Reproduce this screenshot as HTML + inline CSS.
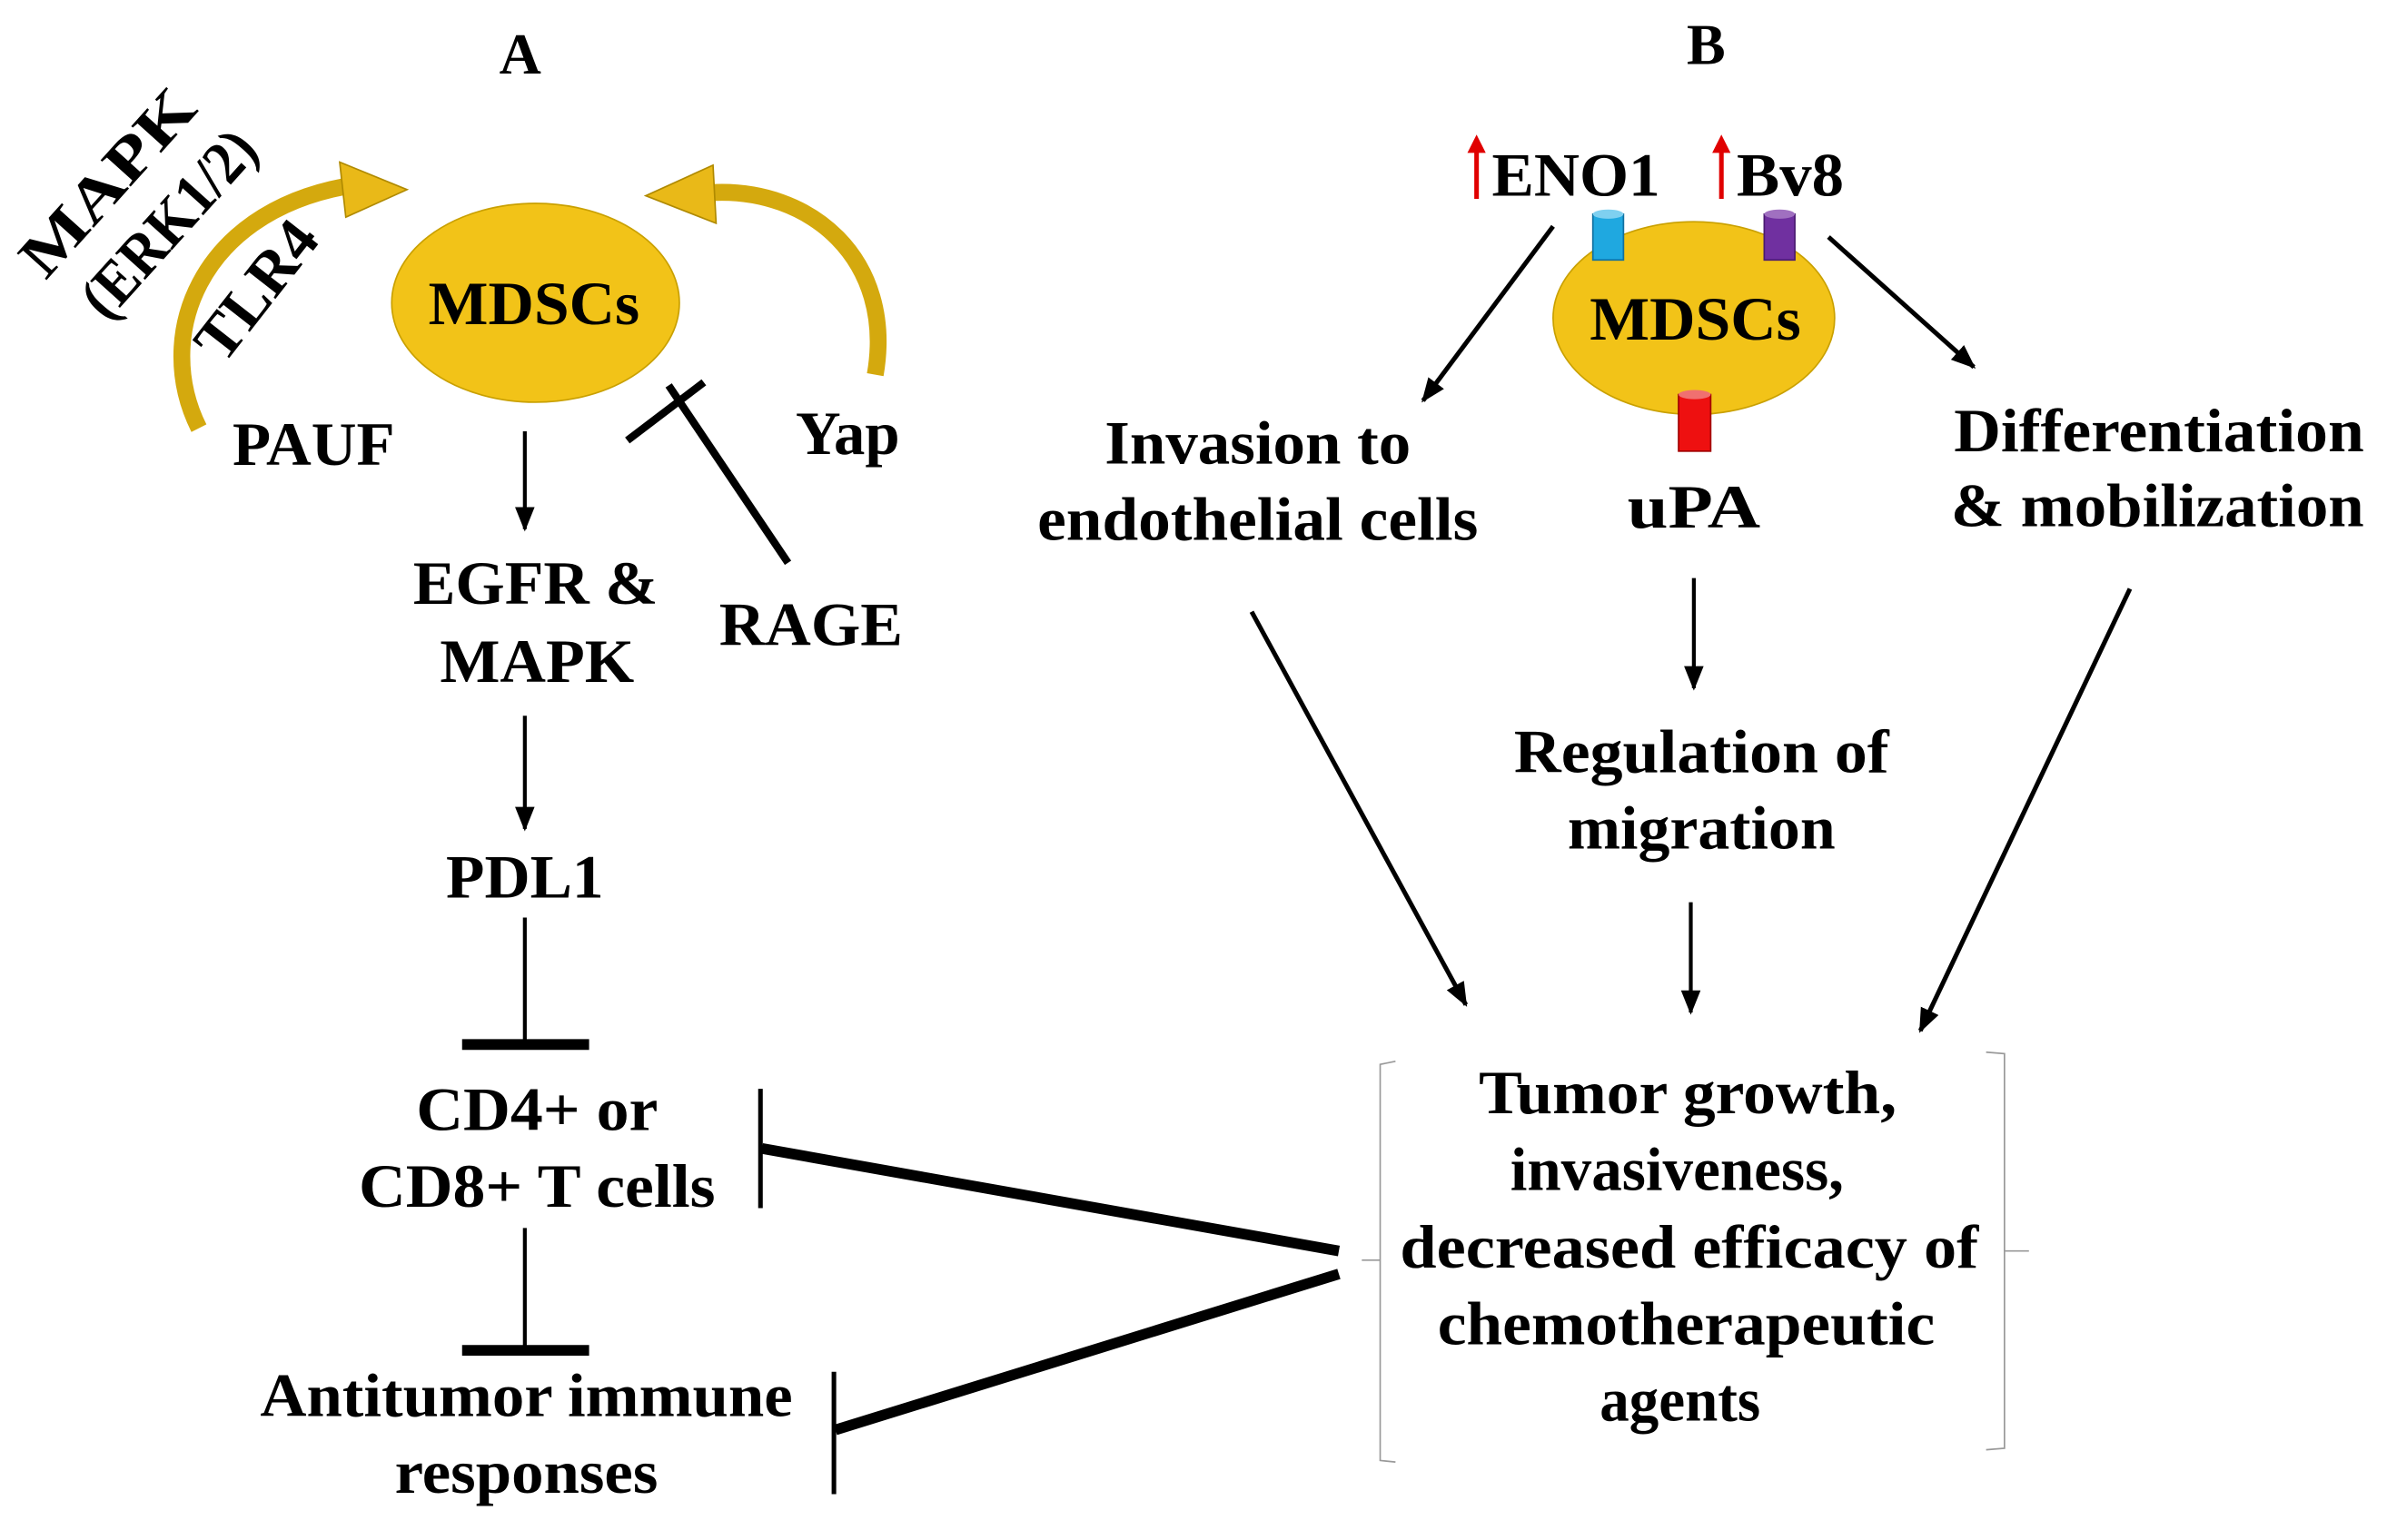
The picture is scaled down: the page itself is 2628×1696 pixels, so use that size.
<!DOCTYPE html>
<html><head><meta charset="utf-8"><style>
html,body{margin:0;padding:0;background:#fff;}
svg{display:block;}
text{font-family:"Liberation Serif",serif;font-weight:bold;fill:#000;}
</style></head><body>
<svg width="2628" height="1696" viewBox="0 0 1560 1007" preserveAspectRatio="none" xmlns="http://www.w3.org/2000/svg">
<defs>
<marker id="ah2" viewBox="0 0 10 10" refX="9" refY="5" markerWidth="16" markerHeight="16" orient="auto" markerUnits="userSpaceOnUse">
<path d="M0,1 L10,5 L0,9 Z" fill="#000"/></marker>
</defs>
<rect width="1560" height="1007" fill="#fff"/>

<text x="340" y="48" font-size="38" text-anchor="middle">A</text>
<text x="1115" y="42" font-size="38" text-anchor="middle">B</text>

<!-- gold arcs -->
<path d="M130,280 C100,220 130,140 225,122" fill="none" stroke="#D4A90E" stroke-width="11"/>
<polygon points="222,106 266,124 226,142" fill="#E9B918" stroke="#B08A00" stroke-width="1"/>
<path d="M572,245 C585,170 530,122 464,126" fill="none" stroke="#D4A90E" stroke-width="11"/>
<polygon points="466,108 422,128 468,146" fill="#E9B918" stroke="#B08A00" stroke-width="1"/>

<ellipse cx="350" cy="198" rx="94" ry="65" fill="#F2C318" stroke="#C9A000" stroke-width="1"/>
<text x="349" y="212" font-size="40" text-anchor="middle" textLength="138" lengthAdjust="spacingAndGlyphs">MDSCs</text>

<g transform="translate(80,128) rotate(-48)"><text x="0" y="0" font-size="40" text-anchor="middle" textLength="150" lengthAdjust="spacingAndGlyphs">MAPK</text></g>
<g transform="translate(120,155) rotate(-48)"><text x="0" y="0" font-size="40" text-anchor="middle" textLength="150" lengthAdjust="spacingAndGlyphs">(ERK1/2)</text></g>
<g transform="translate(178,198) rotate(-52)"><text x="0" y="0" font-size="40" text-anchor="middle" textLength="104" lengthAdjust="spacingAndGlyphs">TLR4</text></g>

<text x="205" y="304" font-size="40" text-anchor="middle" textLength="106" lengthAdjust="spacingAndGlyphs">PAUF</text>
<text x="554" y="297" font-size="40" text-anchor="middle" textLength="68" lengthAdjust="spacingAndGlyphs">Yap</text>

<line x1="515" y1="368" x2="437" y2="252" stroke="#000" stroke-width="5"/>
<line x1="410" y1="288" x2="460" y2="250" stroke="#000" stroke-width="5"/>
<text x="530" y="422" font-size="40" text-anchor="middle" textLength="120" lengthAdjust="spacingAndGlyphs">RAGE</text>

<line x1="343" y1="282" x2="343" y2="346" stroke="#000" stroke-width="2.5" marker-end="url(#ah2)"/>
<text x="350" y="395" font-size="40" text-anchor="middle" textLength="160" lengthAdjust="spacingAndGlyphs">EGFR &amp;</text>
<text x="351" y="446" font-size="40" text-anchor="middle" textLength="127" lengthAdjust="spacingAndGlyphs">MAPK</text>
<line x1="343" y1="468" x2="343" y2="542" stroke="#000" stroke-width="2.5" marker-end="url(#ah2)"/>
<text x="343" y="587" font-size="40" text-anchor="middle" textLength="103" lengthAdjust="spacingAndGlyphs">PDL1</text>

<line x1="343" y1="600" x2="343" y2="683" stroke="#000" stroke-width="2.5"/>
<line x1="302" y1="683" x2="385" y2="683" stroke="#000" stroke-width="7"/>
<text x="351" y="739" font-size="40" text-anchor="middle" textLength="158" lengthAdjust="spacingAndGlyphs">CD4+ or</text>
<text x="351" y="789" font-size="40" text-anchor="middle" textLength="233" lengthAdjust="spacingAndGlyphs">CD8+ T cells</text>
<line x1="343" y1="803" x2="343" y2="883" stroke="#000" stroke-width="2.5"/>
<line x1="302" y1="883" x2="385" y2="883" stroke="#000" stroke-width="7"/>
<text x="344" y="926" font-size="40" text-anchor="middle" textLength="348" lengthAdjust="spacingAndGlyphs">Antitumor immune</text>
<text x="344" y="976" font-size="40" text-anchor="middle" textLength="172" lengthAdjust="spacingAndGlyphs">responses</text>

<line x1="497" y1="712" x2="497" y2="790" stroke="#000" stroke-width="3"/>
<line x1="498" y1="751" x2="875" y2="818" stroke="#000" stroke-width="7"/>
<line x1="545" y1="897" x2="545" y2="977" stroke="#000" stroke-width="3"/>
<line x1="546" y1="935" x2="875" y2="833" stroke="#000" stroke-width="7"/>

<!-- Panel B -->
<line x1="965" y1="130" x2="965" y2="92" stroke="#E00000" stroke-width="3"/>
<polygon points="959,100 965,88 971,100" fill="#E00000"/>
<text x="975" y="128" font-size="40" textLength="110" lengthAdjust="spacingAndGlyphs">ENO1</text>
<line x1="1125" y1="130" x2="1125" y2="92" stroke="#E00000" stroke-width="3"/>
<polygon points="1119,100 1125,88 1131,100" fill="#E00000"/>
<text x="1135" y="128" font-size="40" textLength="70" lengthAdjust="spacingAndGlyphs">Bv8</text>

<ellipse cx="1107" cy="208" rx="92" ry="63" fill="#F2C318" stroke="#C9A000" stroke-width="1"/>
<text x="1108" y="222" font-size="40" text-anchor="middle" textLength="138" lengthAdjust="spacingAndGlyphs">MDSCs</text>
<rect x="1041" y="140" width="20" height="30" fill="#1FA8E0" stroke="#1070A0" stroke-width="1"/>
<ellipse cx="1051" cy="140" rx="10" ry="3" fill="#7FD0F0"/>
<rect x="1153" y="140" width="20" height="30" fill="#7030A0" stroke="#4A1A70" stroke-width="1"/>
<ellipse cx="1163" cy="140" rx="10" ry="3" fill="#A070C0"/>
<rect x="1097" y="258" width="21" height="37" fill="#EE1010" stroke="#A00000" stroke-width="1"/>
<ellipse cx="1107.5" cy="258" rx="10.5" ry="3" fill="#F07070"/>

<line x1="1015" y1="148" x2="930" y2="262" stroke="#000" stroke-width="3" marker-end="url(#ah2)"/>
<line x1="1195" y1="155" x2="1290" y2="240" stroke="#000" stroke-width="3" marker-end="url(#ah2)"/>

<text x="822" y="303" font-size="40" text-anchor="middle" textLength="200" lengthAdjust="spacingAndGlyphs">Invasion to</text>
<text x="822" y="353" font-size="40" text-anchor="middle" textLength="288" lengthAdjust="spacingAndGlyphs">endothelial cells</text>
<text x="1107" y="345" font-size="40" text-anchor="middle" textLength="87" lengthAdjust="spacingAndGlyphs">uPA</text>
<text x="1411" y="295" font-size="40" text-anchor="middle" textLength="268" lengthAdjust="spacingAndGlyphs">Differentiation</text>
<text x="1410" y="344" font-size="40" text-anchor="middle" textLength="270" lengthAdjust="spacingAndGlyphs">&amp; mobilization</text>

<line x1="1107" y1="378" x2="1107" y2="450" stroke="#000" stroke-width="2.5" marker-end="url(#ah2)"/>
<text x="1112" y="505" font-size="40" text-anchor="middle" textLength="245" lengthAdjust="spacingAndGlyphs">Regulation of</text>
<text x="1112" y="555" font-size="40" text-anchor="middle" textLength="175" lengthAdjust="spacingAndGlyphs">migration</text>
<line x1="1105" y1="590" x2="1105" y2="662" stroke="#000" stroke-width="2.5" marker-end="url(#ah2)"/>

<line x1="818" y1="400" x2="958" y2="657" stroke="#000" stroke-width="3" marker-end="url(#ah2)"/>
<line x1="1392" y1="385" x2="1255" y2="674" stroke="#000" stroke-width="3" marker-end="url(#ah2)"/>

<path d="M912,694 L902,696 L902,955 L912,956" fill="none" stroke="#999" stroke-width="1"/>
<path d="M902,824 L890,824" fill="none" stroke="#999" stroke-width="1"/>
<path d="M1298,688 L1310,689 L1310,947 L1298,948" fill="none" stroke="#999" stroke-width="1"/>
<path d="M1310,818 L1326,818" fill="none" stroke="#999" stroke-width="1"/>

<text x="1103" y="728" font-size="40" text-anchor="middle" textLength="273" lengthAdjust="spacingAndGlyphs">Tumor growth,</text>
<text x="1096" y="778" font-size="40" text-anchor="middle" textLength="218" lengthAdjust="spacingAndGlyphs">invasiveness,</text>
<text x="1104" y="829" font-size="40" text-anchor="middle" textLength="378" lengthAdjust="spacingAndGlyphs">decreased efficacy of</text>
<text x="1102" y="879" font-size="40" text-anchor="middle" textLength="325" lengthAdjust="spacingAndGlyphs">chemotherapeutic</text>
<text x="1098" y="929" font-size="40" text-anchor="middle" textLength="105" lengthAdjust="spacingAndGlyphs">agents</text>
</svg>
</body></html>
